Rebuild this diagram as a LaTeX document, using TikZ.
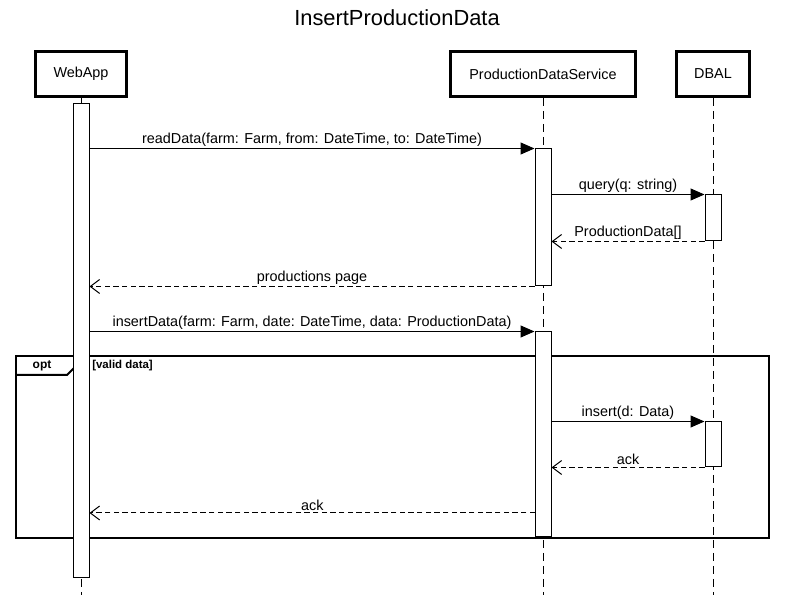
\documentclass[tikz,border=0pt]{standalone}
\usepackage{fontspec}
\setmainfont{Liberation Sans}
\usetikzlibrary{arrows.meta}
\begin{document}
\begin{tikzpicture}[x=0.75pt,y=-0.75pt,
  head/.style={draw,line width=2.25pt,fill=white,minimum height=33.75pt,inner sep=0pt,font=\fontsize{10.8}{12}\selectfont},
  act/.style={draw,line width=0.75pt,fill=white,minimum width=12pt,inner sep=0pt},
  life/.style={line width=0.75pt,dash pattern=on 6pt off 3.75pt},
  sync/.style={line width=0.75pt,-{Triangle[length=10.5pt,width=9pt]}},
  reply/.style={line width=0.75pt,dash pattern=on 4pt off 2.5pt,-{Straight Barb[length=7pt,width=10.5pt,line width=0.75pt]}},
  lbl/.style={font=\fontsize{10.8}{12}\selectfont,inner sep=1.5pt,above},
]
\useasboundingbox (0,0) rectangle (794,595);
\fill[white] (0,0) rectangle (794,595);
\node[font=\fontsize{16.4}{18}\selectfont] (title) at (397,18) {InsertProductionData};
% heads
\node[head,minimum width=68.25pt] (webapp) at (81,74) {WebApp};
\node[head,minimum width=138.75pt] (pds) at (543,74) {ProductionDataService};
\node[head,minimum width=54.75pt] (dbal) at (713,74) {DBAL};
\coordinate (wend) at (81,595);
\coordinate (pend) at (543,595);
\coordinate (dend) at (713,595);
\draw[life] (webapp.south) -- (wend);
\draw[life] (pds.south) -- (pend);
\draw[life] (dbal.south) -- (dend);
% opt frame
\draw[line width=1.5pt] (16,356) rectangle (769,538);
\draw[line width=1.5pt] (16,375) -- (67,375) -- (77,365) -- (77,356);
\node[font=\bfseries\fontsize{9}{10}\selectfont,inner sep=0pt] (optlbl) at (42,366) {opt};
\node[font=\bfseries\fontsize{8.6}{10}\selectfont,anchor=west,inner sep=0pt] (guard) at (92,366) {[valid data]};
% activations
\node[act,minimum height=355.5pt] (wa) at (81,341) {};
\node[act,minimum height=102.75pt] (pa1) at (543,217.5) {};
\node[act,minimum height=153.75pt] (pa2) at (543,434.5) {};
\node[act,minimum height=34.5pt] (da1) at (713,218) {};
\node[act,minimum height=33.75pt] (da2) at (713,444.5) {};
% messages
\draw[sync] (wa.east |- pa1.north) -- (pa1.north west) node[lbl,midway] {readData(farm: Farm, from: DateTime, to: DateTime)};
\draw[sync] (pa1.east |- da1.north) -- (da1.north west) node[lbl,midway] {query(q: string)};
\draw[reply] (da1.south west) -- (pa1.east |- da1.south) node[lbl,midway] {ProductionData[]};
\draw[reply] (pa1.south west) -- (wa.east |- pa1.south) node[lbl,midway] {productions page};
\draw[sync] (wa.east |- pa2.north) -- (pa2.north west) node[lbl,midway] {insertData(farm: Farm, date: DateTime, data: ProductionData)};
\draw[sync] (pa2.east |- da2.north) -- (da2.north west) node[lbl,midway] {insert(d: Data)};
\draw[reply] (da2.south west) -- (pa2.east |- da2.south) node[lbl,midway] {ack};
\coordinate (ackfrom) at (535,513);
\draw[reply] (ackfrom) -- (wa.east |- ackfrom) node[lbl,midway] {ack};
\end{tikzpicture}
\end{document}
